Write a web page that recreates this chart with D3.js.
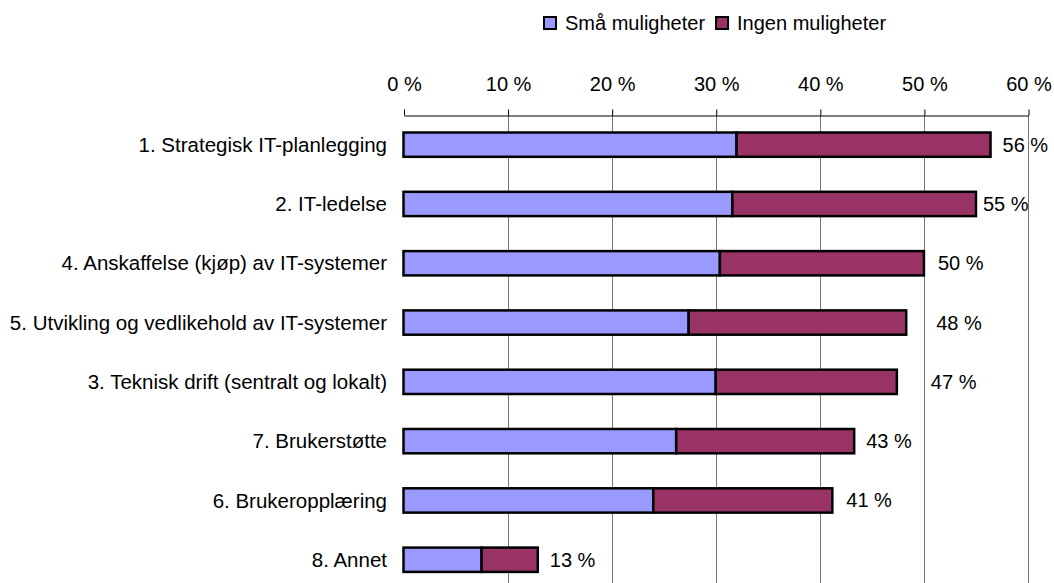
<!DOCTYPE html>
<html>
<head>
<meta charset="utf-8">
<script src="https://cdn.jsdelivr.net/npm/d3@7"></script>
<style>
  body { margin: 0; background: #fff; }
  text { font-family: Arial, "Liberation Sans", sans-serif; fill: #000; }
</style>
</head>
<body>
<div id="chart"></div>
<script>
// data
var categories = [
  "1. Strategisk IT-planlegging",
  "2. IT-ledelse",
  "4. Anskaffelse (kjøp) av IT-systemer",
  "5. Utvikling og vedlikehold av IT-systemer",
  "3. Teknisk drift (sentralt og lokalt)",
  "7. Brukerstøtte",
  "6. Brukeropplæring",
  "8. Annet"
];
var smaa = [32.0, 31.6, 30.4, 27.4, 30.0, 26.2, 24.0, 7.5];
var ingen = [24.4, 23.4, 19.6, 20.9, 17.4, 17.1, 17.2, 5.4];
var seriesNames = ["Små muligheter", "Ingen muligheter"];
var xTicks = [0, 10, 20, 30, 40, 50, 60];

// little pixel nudges for the total labels, excel put them a bit uneven
var labelNudge = [0, -5, 2, 18, 22, 0, 2, 0];

var svgWidth = 1054;
var svgHeight = 583;
var colors = ["#9999FF", "#993366"];

var svg = d3.select("#chart")
    .append("svg")
    .attr("width", svgWidth)
    .attr("height", svgHeight);

var rows = categories.map(function(c, i) {
    return { cat: c, a: smaa[i], b: ingen[i], total: smaa[i] + ingen[i], i: i };
});

// scales
var xScale = d3.scaleLinear()
    .domain([0, 60])
    .range([403.5, 1028]);

var yScale = d3.scaleBand()
    .domain(categories)
    .range([115, 115 + 8 * 59.3])
    .paddingInner(0.59)
    .paddingOuter(0.295);

// vertical gridlines
svg.append("g")
    .selectAll("line")
    .data(xTicks.slice(1))
    .enter()
    .append("line")
    .attr("x1", d => Math.round(xScale(d)) + 0.5)
    .attr("x2", d => Math.round(xScale(d)) + 0.5)
    .attr("y1", 115)
    .attr("y2", svgHeight)
    .attr("stroke", "#777")
    .attr("stroke-width", 1);

// top axis
var topAxis = d3.axisTop(xScale)
    .tickValues(xTicks)
    .tickSize(6)
    .tickSizeOuter(0)
    .tickPadding(19)
    .tickFormat(d => d + " %");

var axisG = svg.append("g")
    .attr("transform", "translate(0.5, 115.5)")
    .call(topAxis);
axisG.select(".domain").attr("stroke", "#000");
axisG.selectAll(".tick line").attr("stroke", "#000");
axisG.selectAll(".tick text")
    .attr("font-size", "20px")
    .attr("font-family", "Arial, 'Liberation Sans', sans-serif")
    .attr("fill", "#000");

// stacked bars
var barG = svg.append("g");
barG.selectAll(".bar-a")
    .data(rows)
    .enter()
    .append("rect")
    .attr("x", d => xScale(0))
    .attr("y", d => yScale(d.cat))
    .attr("width", d => xScale(d.a) - xScale(0))
    .attr("height", yScale.bandwidth())
    .attr("fill", colors[0])
    .attr("stroke", "#000")
    .attr("stroke-width", 2.5);

barG.selectAll(".bar-b")
    .data(rows)
    .enter()
    .append("rect")
    .attr("x", d => xScale(d.a))
    .attr("y", d => yScale(d.cat))
    .attr("width", d => xScale(d.total) - xScale(d.a))
    .attr("height", yScale.bandwidth())
    .attr("fill", colors[1])
    .attr("stroke", "#000")
    .attr("stroke-width", 2.5);

// category labels
svg.append("g")
    .selectAll("text")
    .data(rows)
    .enter()
    .append("text")
    .attr("x", 387)
    .attr("y", d => yScale(d.cat) + yScale.bandwidth() / 2)
    .attr("dy", "0.35em")
    .attr("text-anchor", "end")
    .attr("font-size", "20.5px")
    .text(d => d.cat);

// total labels
svg.append("g")
    .selectAll("text")
    .data(rows)
    .enter()
    .append("text")
    .attr("x", d => xScale(d.total) + 12 + labelNudge[d.i])
    .attr("y", d => yScale(d.cat) + yScale.bandwidth() / 2)
    .attr("dy", "0.35em")
    .attr("font-size", "20px")
    .text(d => Math.round(d.total) + " %");

// legend
var legend = svg.append("g");
var lx = 544;
seriesNames.forEach(function(name, i) {
    var item = legend.append("g").attr("transform", `translate(${lx}, 23)`);
    item.append("rect")
        .attr("x", 0)
        .attr("y", -6)
        .attr("width", 12)
        .attr("height", 12)
        .attr("fill", colors[i])
        .attr("stroke", "#000")
        .attr("stroke-width", 2);
    var t = item.append("text")
        .attr("x", 21)
        .attr("y", 0)
        .attr("dy", "0.35em")
        .attr("font-size", "20px")
        .text(name);
    lx += 21 + t.node().getComputedTextLength() + 11;
});
</script>
</body>
</html>
